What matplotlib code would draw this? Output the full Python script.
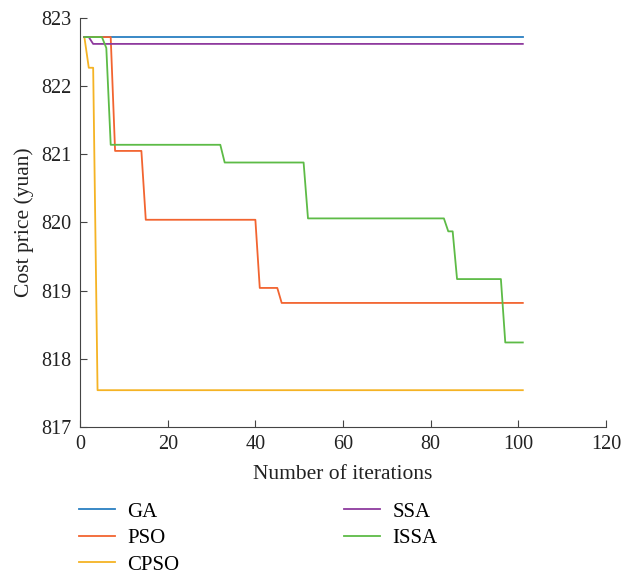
import numpy as np
import matplotlib.pyplot as plt

plt.rcParams['font.family'] = ['Liberation Serif', 'DejaVu Serif']

iters = np.arange(1, 102)

# (start iteration, value) steps
ga_steps = [(1, 822.72)]
pso_steps = [(1, 822.72), (8, 821.05), (15, 820.04), (41, 819.04), (46, 818.82)]
cpso_steps = [(1, 822.72), (2, 822.27), (4, 817.54)]
ssa_steps = [(1, 822.72), (3, 822.62)]
issa_steps = [(1, 822.72), (6, 822.56), (7, 821.14), (33, 820.88), (52, 820.06),
              (84, 819.87), (86, 819.17), (97, 818.24)]

names = ['GA', 'PSO', 'CPSO', 'SSA', 'ISSA']
colors = ['#2a7fc1', '#f26430', '#f5b324', '#8e3a9e', '#5dbb46']


def curve(steps):
    y = np.empty(len(iters))
    for start, val in steps:
        y[iters >= start] = val
    return y


fig = plt.figure(figsize=(6.36, 5.75), dpi=100)
ax = fig.add_axes([0.1258, 0.2574, 0.8272, 0.7113])

for name, steps, c in zip(names, [ga_steps, pso_steps, cpso_steps, ssa_steps, issa_steps], colors):
    ax.plot(iters, curve(steps), color=c, lw=1.3, label=name)

ax.set_xlim(0, 120)
ax.set_ylim(817, 823)
ax.set_xticks(range(0, 121, 20))
ax.set_yticks(range(817, 824))
ax.spines['top'].set_visible(False)
ax.spines['right'].set_visible(False)
for s in ['left', 'bottom']:
    ax.spines[s].set_color('#444444')
ax.tick_params(direction='in', length=5, color='#444444', labelsize=14.5,
               labelcolor='#222222', pad=6)
ax.set_xlabel('Number of iterations', fontsize=15.5, color='#222222', labelpad=8)
ax.set_ylabel('Cost price (yuan)', fontsize=15.5, color='#222222', labelpad=5)

fig.legend(loc='upper left', bbox_to_anchor=(79 / 636, 1 - 502 / 575), ncol=2,
           frameon=False, fontsize=15, handlelength=1.75, handletextpad=0.57,
           columnspacing=7.9, labelspacing=0.33, borderpad=0, borderaxespad=0)

fig.savefig('out.png', dpi=100)
